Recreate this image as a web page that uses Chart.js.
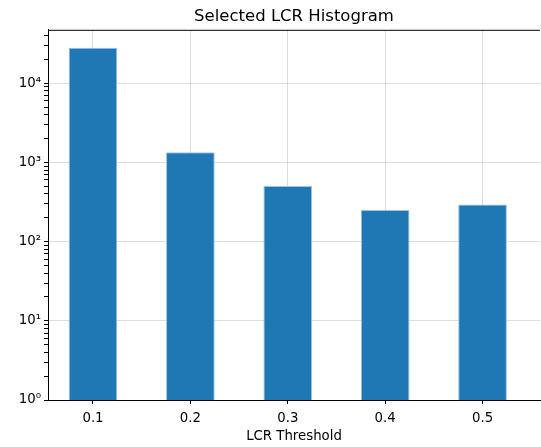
<!DOCTYPE html>
<html>
<head>
<meta charset="utf-8">
<script src="https://cdn.jsdelivr.net/npm/chart.js@4.4.1/dist/chart.umd.min.js"></script>
<style>
  html, body { margin: 0; padding: 0; background: #fff; }
  #wrap { width: 541px; height: 447px; }
</style>
</head>
<body>
<div id="wrap"><canvas id="lcr"></canvas></div>
<script>
// thresholds along the x-axis
var thresholds = [0.1, 0.2, 0.3, 0.4, 0.5];
// counts per threshold (log scale)
var counts = [28000, 1340, 505, 250, 294];
// y ticks shown as powers of ten
var decadeLabels = ["10⁰", "10¹", "10²", "10³", "10⁴"];

var points = thresholds.map(function (t, i) { return { x: t, y: counts[i] }; });

var yMax = 47300;

// top spine, matplotlib style
var topSpine = {
  id: "topSpine",
  afterDraw: function (chart) {
    var a = chart.chartArea, c = chart.ctx;
    c.save();
    c.strokeStyle = "#000";
    c.lineWidth = 1;
    c.beginPath();
    c.moveTo(a.left, a.top + 0.5);
    c.lineTo(a.right, a.top + 0.5);
    c.stroke();
    c.restore();
  }
};

var ctx = document.getElementById("lcr");
var chart = new Chart(ctx, {
  type: "bar",
  data: {
    datasets: [
      {
        data: points,
        backgroundColor: "#1f77b4",
        borderColor: "#9cc4e4",
        borderWidth: 1,
        barPercentage: 0.5,
        categoryPercentage: 1
      }
    ]
  },
  options: {
    responsive: true,
    maintainAspectRatio: false,
    animation: false,
    layout: { padding: { left: 0, right: 1, top: 0, bottom: 0 } },
    plugins: {
      legend: { display: false },
      tooltip: { enabled: false },
      title: {
        display: true,
        fullSize: false,
        text: "Selected LCR Histogram",
        color: "#000",
        font: { family: "DejaVu Sans", size: 16.5, weight: "normal" },
        padding: { top: 7, bottom: 3 }
      }
    },
    scales: {
      x: {
        type: "linear",
        min: 0.0538,
        max: 0.559,
        offset: false,
        z: 1,
        afterBuildTicks: function (scale) {
          scale.ticks = thresholds.map(function (t) { return { value: t }; });
        },
        afterFit: function (scale) { scale.height = 47; },
        border: { color: "#000", width: 1 },
        grid: { offset: false, color: "rgba(176,176,176,0.42)", tickColor: "#000", tickLength: 4 },
        ticks: {
          color: "#000",
          padding: 7,
          maxRotation: 0,
          autoSkip: false,
          font: { family: "DejaVu Sans", size: 13.3 },
          callback: function (v) { return v.toFixed(1); }
        },
        title: {
          display: true,
          text: "LCR Threshold",
          color: "#000",
          font: { family: "DejaVu Sans", size: 13.3 },
          padding: { top: 0, bottom: 2 }
        }
      },
      y: {
        type: "logarithmic",
        min: 1,
        max: yMax,
        z: 1,
        afterBuildTicks: function (scale) {
          var t = [];
          for (var e = 0; e <= 4; e++) {
            for (var m = 1; m <= 9; m++) {
              var v = m * Math.pow(10, e);
              if (v <= yMax) t.push({ value: v, major: m === 1 });
            }
          }
          scale.ticks = t;
        },
        afterFit: function (scale) { scale.width = 48; },
        border: { color: "#000", width: 1 },
        grid: {
          color: function (c) { return c.tick && c.tick.major ? "rgba(176,176,176,0.42)" : "rgba(0,0,0,0)"; },
          tickColor: "#000",
          tickLength: 4
        },
        ticks: {
          color: "#000",
          padding: 3,
          autoSkip: false,
          font: { family: "DejaVu Sans", size: 13.3 },
          callback: function (v) {
            var e = Math.round(Math.log10(v));
            return Math.pow(10, e) === v ? decadeLabels[e] : "";
          }
        }
      }
    }
  },
  plugins: [topSpine]
});
</script>
</body>
</html>
